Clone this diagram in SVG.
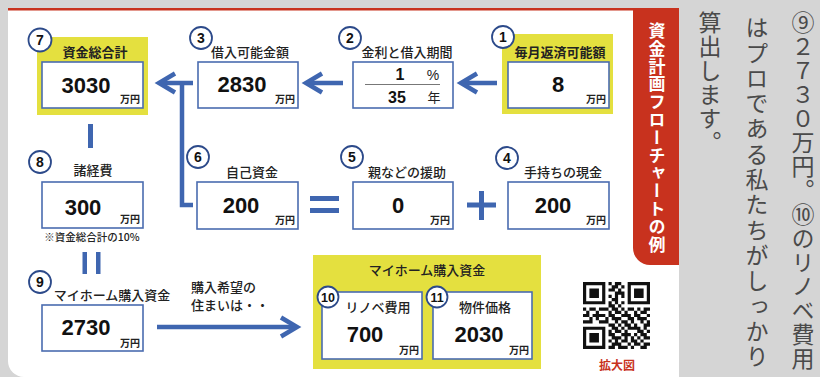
<svg xmlns="http://www.w3.org/2000/svg" width="820" height="377" viewBox="0 0 820 377">
<style>
.box{fill:#fff;stroke:#4a6cb0;stroke-width:1.6}
.yel{fill:#e4e03f}
.circ{fill:#fff;stroke:#2c4a8a;stroke-width:1.8}
.num{font-family:"Liberation Sans",Arial,sans-serif;font-weight:bold;font-size:14px;fill:#111;text-anchor:middle}
.num2{font-family:"Liberation Sans",Arial,sans-serif;font-weight:bold;font-size:12.5px;fill:#111;text-anchor:middle}
.lbl{font-family:"Noto Sans CJK JP",sans-serif;font-weight:500;font-size:13px;fill:#222;text-anchor:middle}
.lblb{font-family:"Noto Sans CJK JP",sans-serif;font-weight:bold;font-size:13px;fill:#222;text-anchor:middle}
.val{font-family:"Liberation Sans",Arial,sans-serif;font-weight:bold;font-size:22px;fill:#111;text-anchor:middle}
.unit{font-family:"Noto Sans CJK JP",sans-serif;font-weight:bold;font-size:10px;fill:#222;text-anchor:end}
.arr{fill:none;stroke:#3f66b0;stroke-width:4.5;stroke-linejoin:miter}
.sym{fill:#3f66b0}
.vt{font-family:"Noto Sans CJK JP",sans-serif;font-size:23px;fill:#4a4a4a;writing-mode:vertical-rl}
</style>
<rect x="0" y="0" width="820" height="377" fill="#d5d5d5"/>
<path d="M8,9 H679 V377 H24 A16,16 0 0 1 8,361 Z" fill="#fff"/>
<rect x="8" y="8" width="671" height="2.5" fill="#c8321e"/>
<path d="M633,9 H679 V265 H650 A17,17 0 0 1 633,248 Z" fill="#c8321e"/>
<text x="657" y="22" font-family="Noto Sans CJK JP,sans-serif" font-weight="bold" font-size="17" fill="#fff" style="writing-mode:vertical-rl;letter-spacing:0.8px">資金計画フローチャートの例</text>

<g id="body-text">
<text class="vt" x="803" y="11" style="letter-spacing:1px">⑨２７３０万円。⑩のリノベ費用</text>
<text class="vt" x="757" y="16" style="letter-spacing:2.3px">はプロである私たちがしっかり</text>
<text class="vt" x="710" y="11" style="letter-spacing:1px">算出します。</text>
</g>

<g id="connectors">
<path class="arr" d="M497,83 H462"/>
<path class="arr" d="M477,73.5 L461,83 L477,92.5"/>
<path class="arr" d="M343,83 H307"/>
<path class="arr" d="M322,73.5 L306,83 L322,92.5"/>
<path class="arr" d="M193,83 H160"/>
<path class="arr" d="M175,73.5 L159,83 L175,92.5"/>
<path class="arr" d="M193,205 H182 V83"/>
<path class="arr" d="M157,327 H296"/>
<path class="arr" d="M281,317.5 L297,327 L281,336.5"/>
<rect class="sym" x="88" y="124" width="5" height="24"/>
<rect class="sym" x="82.5" y="252" width="4.5" height="22"/>
<rect class="sym" x="96" y="252" width="4.5" height="22"/>
<rect class="sym" x="310" y="196" width="29" height="5"/>
<rect class="sym" x="310" y="208" width="29" height="5"/>
<rect class="sym" x="467" y="202.5" width="29" height="5"/>
<rect class="sym" x="479" y="191" width="5" height="29"/>
</g>

<g id="node1">
<rect class="yel" x="502" y="34" width="111" height="80"/>
<rect class="box" x="508" y="62" width="101" height="46"/>
<text class="lblb" x="560" y="57">毎月返済可能額</text>
<text class="val" x="558" y="92">8</text>
<text class="unit" x="606" y="103">万円</text>
<circle class="circ" cx="503" cy="37" r="11"/>
<text class="num" x="503" y="42">1</text>
</g>

<g id="node2">
<rect class="box" x="353" y="62" width="100" height="46"/>
<text class="lbl" x="407" y="57">金利と借入期間</text>
<text x="400" y="80" font-family="Liberation Sans,Arial,sans-serif" font-weight="bold" font-size="16" fill="#111" text-anchor="middle">1</text>
<text x="433" y="80" font-family="Liberation Sans,Arial,sans-serif" font-size="14" fill="#222" text-anchor="middle">%</text>
<line x1="365" y1="84.5" x2="440" y2="84.5" stroke="#777" stroke-width="1"/>
<text x="397" y="103" font-family="Liberation Sans,Arial,sans-serif" font-weight="bold" font-size="16" fill="#111" text-anchor="middle">35</text>
<text x="434" y="102" font-family="Noto Sans CJK JP,sans-serif" font-size="13" fill="#222" text-anchor="middle">年</text>
<circle class="circ" cx="350" cy="38" r="11"/>
<text class="num" x="350" y="43">2</text>
</g>

<g id="node3">
<rect class="box" x="198" y="62" width="100" height="46"/>
<text class="lbl" x="250" y="57">借入可能金額</text>
<text class="val" x="242" y="92">2830</text>
<text class="unit" x="295" y="103">万円</text>
<circle class="circ" cx="201" cy="38" r="11"/>
<text class="num" x="201" y="43">3</text>
</g>

<g id="node7">
<rect class="yel" x="37" y="37" width="111" height="78"/>
<rect class="box" x="42" y="62" width="101" height="46"/>
<text class="lblb" x="95" y="57">資金総合計</text>
<text class="val" x="86" y="93">3030</text>
<text class="unit" x="140" y="103">万円</text>
<circle class="circ" cx="40" cy="40" r="11.5"/>
<text class="num" x="40" y="45">7</text>
</g>

<g id="node8">
<rect class="box" x="42" y="182" width="101" height="46"/>
<text class="lbl" x="93" y="175">諸経費</text>
<text class="val" x="83" y="215">300</text>
<text class="unit" x="140" y="223">万円</text>
<text x="92" y="241" font-family="Noto Sans CJK JP,sans-serif" font-weight="500" font-size="10.5" fill="#222" text-anchor="middle">※資金総合計の10%</text>
<circle class="circ" cx="40" cy="162" r="11"/>
<text class="num" x="40" y="167">8</text>
</g>

<g id="node6">
<rect class="box" x="197" y="182" width="101" height="47"/>
<text class="lbl" x="252" y="177">自己資金</text>
<text class="val" x="241" y="213">200</text>
<text class="unit" x="295" y="224">万円</text>
<circle class="circ" cx="198" cy="157" r="11"/>
<text class="num" x="198" y="162">6</text>
</g>

<g id="node5">
<rect class="box" x="353" y="182" width="100" height="47"/>
<text class="lbl" x="407" y="177">親などの援助</text>
<text class="val" x="398" y="213">0</text>
<text class="unit" x="450" y="224">万円</text>
<circle class="circ" cx="352" cy="157" r="11"/>
<text class="num" x="352" y="162">5</text>
</g>

<g id="node4">
<rect class="box" x="508" y="182" width="101" height="47"/>
<text class="lbl" x="563" y="177">手持ちの現金</text>
<text class="val" x="553" y="213">200</text>
<text class="unit" x="606" y="224">万円</text>
<circle class="circ" cx="507" cy="158" r="11"/>
<text class="num" x="507" y="163">4</text>
</g>

<g id="node9">
<rect class="box" x="42" y="305" width="101" height="46"/>
<text class="lbl" x="112" y="300">マイホーム購入資金</text>
<text class="val" x="86" y="335">2730</text>
<text class="unit" x="140" y="347">万円</text>
<circle class="circ" cx="40" cy="282" r="11"/>
<text class="num" x="40" y="287">9</text>
</g>

<g id="note">
<text x="191" y="292" font-family="Noto Sans CJK JP,sans-serif" font-weight="500" font-size="13" fill="#222">購入希望の</text>
<text x="191" y="310" font-family="Noto Sans CJK JP,sans-serif" font-weight="500" font-size="13" fill="#222">住まいは・・</text>
</g>

<g id="group-home">
<rect class="yel" x="313" y="255" width="228" height="114"/>
<text class="lbl" x="427" y="275">マイホーム購入資金</text>
</g>

<g id="node10">
<rect class="box" x="322" y="292" width="100" height="67"/>
<text class="lbl" x="378" y="312">リノベ費用</text>
<text class="val" x="365" y="342">700</text>
<text class="unit" x="419" y="354">万円</text>
<circle class="circ" cx="328" cy="297" r="10.5"/>
<text class="num2" x="328" y="301.5">10</text>
</g>

<g id="node11">
<rect class="box" x="433" y="292" width="99" height="67"/>
<text class="lbl" x="485" y="312">物件価格</text>
<text class="val" x="479" y="342">2030</text>
<text class="unit" x="529" y="354">万円</text>
<circle class="circ" cx="437" cy="297" r="10.5"/>
<text class="num2" x="437" y="301.5">11</text>
</g>

<g id="qr">
<path transform="translate(583,282) scale(3.19)" fill="#111" d="M0 0h7v1h-7z M8 0h1v1h-1z M10 0h2v1h-2z M14 0h7v1h-7z
M0 1h1v1h-1z M6 1h1v1h-1z M9 1h2v1h-2z M12 1h1v1h-1z M14 1h1v1h-1z M20 1h1v1h-1z
M0 2h1v1h-1z M2 2h3v1h-3z M6 2h1v1h-1z M8 2h2v1h-2z M11 2h1v1h-1z M14 2h1v1h-1z M16 2h3v1h-3z M20 2h1v1h-1z
M0 3h1v1h-1z M2 3h3v1h-3z M6 3h1v1h-1z M10 3h3v1h-3z M14 3h1v1h-1z M16 3h3v1h-3z M20 3h1v1h-1z
M0 4h1v1h-1z M2 4h3v1h-3z M6 4h1v1h-1z M8 4h1v1h-1z M10 4h1v1h-1z M12 4h1v1h-1z M14 4h1v1h-1z M16 4h3v1h-3z M20 4h1v1h-1z
M0 5h1v1h-1z M6 5h1v1h-1z M9 5h2v1h-2z M14 5h1v1h-1z M20 5h1v1h-1z
M0 6h7v1h-7z M8 6h1v1h-1z M10 6h1v1h-1z M12 6h1v1h-1z M14 6h7v1h-7z
M8 7h2v1h-2z M11 7h1v1h-1z
M0 8h1v1h-1z M2 8h2v1h-2z M5 8h3v1h-3z M9 8h2v1h-2z M12 8h1v1h-1z M14 8h2v1h-2z M17 8h1v1h-1z M19 8h2v1h-2z
M1 9h1v1h-1z M4 9h1v1h-1z M8 9h1v1h-1z M10 9h2v1h-2z M13 9h1v1h-1z M16 9h1v1h-1z M18 9h2v1h-2z
M0 10h2v1h-2z M3 10h4v1h-4z M8 10h2v1h-2z M12 10h3v1h-3z M16 10h2v1h-2z M20 10h1v1h-1z
M2 11h1v1h-1z M4 11h1v1h-1z M7 11h1v1h-1z M9 11h3v1h-3z M14 11h2v1h-2z M17 11h3v1h-3z
M0 12h3v1h-3z M5 12h3v1h-3z M10 12h1v1h-1z M12 12h2v1h-2z M15 12h1v1h-1z M18 12h1v1h-1z M20 12h1v1h-1z
M8 13h2v1h-2z M11 13h1v1h-1z M13 13h2v1h-2z M16 13h1v1h-1z M19 13h2v1h-2z
M0 14h7v1h-7z M9 14h2v1h-2z M12 14h1v1h-1z M14 14h4v1h-4z M19 14h1v1h-1z
M0 15h1v1h-1z M6 15h1v1h-1z M8 15h1v1h-1z M10 15h2v1h-2z M13 15h1v1h-1z M17 15h2v1h-2z M20 15h1v1h-1z
M0 16h1v1h-1z M2 16h3v1h-3z M6 16h1v1h-1z M8 16h2v1h-2z M12 16h3v1h-3z M16 16h1v1h-1z M18 16h2v1h-2z
M0 17h1v1h-1z M2 17h3v1h-3z M6 17h1v1h-1z M9 17h3v1h-3z M13 17h1v1h-1z M15 17h1v1h-1z M17 17h1v1h-1z M19 17h2v1h-2z
M0 18h1v1h-1z M2 18h3v1h-3z M6 18h1v1h-1z M8 18h1v1h-1z M10 18h1v1h-1z M12 18h2v1h-2z M15 18h2v1h-2z M18 18h1v1h-1z
M0 19h1v1h-1z M6 19h1v1h-1z M9 19h3v1h-3z M14 19h1v1h-1z M16 19h2v1h-2z M19 19h2v1h-2z
M0 20h7v1h-7z M8 20h2v1h-2z M11 20h3v1h-3z M15 20h1v1h-1z M18 20h2v1h-2z"/>
<text x="617" y="370" font-family="Noto Sans CJK JP,sans-serif" font-weight="bold" font-size="12" fill="#c8321e" text-anchor="middle">拡大図</text>
</g>
</svg>
